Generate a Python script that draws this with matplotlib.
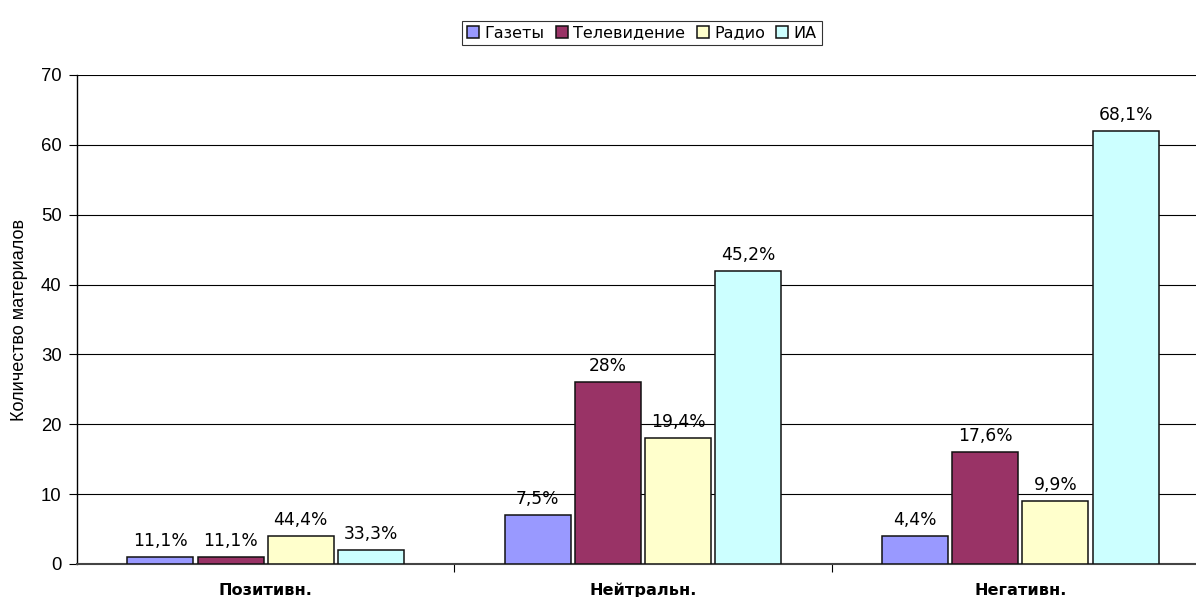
import matplotlib
matplotlib.use("Agg")
import matplotlib.pyplot as plt
import numpy as np

categories = ["Позитивн.", "Нейтральн.", "Негативн."]
series_names = ["Газеты", "Телевидение", "Радио", "ИА"]
gazety = [1, 7, 4]
tv = [1, 26, 16]
radio = [4, 18, 9]
ia = [2, 42, 62]
pct_gazety = ["11,1%", "7,5%", "4,4%"]
pct_tv = ["11,1%", "28%", "17,6%"]
pct_radio = ["44,4%", "19,4%", "9,9%"]
pct_ia = ["33,3%", "45,2%", "68,1%"]
colors = ["#9999FF", "#993366", "#FFFFCC", "#CCFFFF"]
yticks = [0, 10, 20, 30, 40, 50, 60, 70]

values = [gazety, tv, radio, ia]
labels = [pct_gazety, pct_tv, pct_radio, pct_ia]

fig = plt.figure(figsize=(11.96, 5.97), dpi=100)
ax = fig.add_axes([0.0644, 0.0553, 0.9465, 0.8191])

x = np.arange(len(categories))
w = 0.175
pitch = 0.186
for i, (vals, labs, c, name) in enumerate(zip(values, labels, colors, series_names)):
    pos = x + (i - 1.5) * pitch
    bars = ax.bar(pos, vals, width=w, color=c, edgecolor="#111111", linewidth=1.1,
                  label=name, zorder=3)
    for b, v, l in zip(bars, vals, labs):
        ax.annotate(l, (b.get_x() + b.get_width() / 2, v), xytext=(0, 5),
                    textcoords="offset points", ha="center", va="bottom",
                    fontsize=12.3, family="DejaVu Sans", zorder=4)

ax.set_xlim(-0.5, 2.5)
ax.set_ylim(0, 70)
ax.set_yticks(yticks)
ax.set_yticklabels([str(t) for t in yticks], family="Liberation Sans", fontsize=13.3)
ax.yaxis.grid(True, color="black", linewidth=0.8, zorder=0)
ax.set_axisbelow(True)

ax.set_xticks([0.5, 1.5], minor=False)
ax.set_xticklabels([])
ax.set_xticks(x, minor=True)
ax.set_xticklabels(categories, minor=True, fontsize=11.6, fontweight="bold",
                   family="DejaVu Sans", va="baseline")
ax.tick_params(axis="x", which="minor", length=0, pad=22)
ax.tick_params(axis="x", which="major", length=6, width=0.8, direction="out")
ax.tick_params(axis="y", length=6, width=0.8, direction="out", pad=5)

for s in ["top", "right"]:
    ax.spines[s].set_visible(False)
ax.spines["left"].set_linewidth(1)
ax.spines["bottom"].set_linewidth(1.5)
ax.spines["bottom"].set_color("#444444")

ax.set_ylabel("Количество материалов", family="Liberation Sans", fontsize=13, labelpad=9)

leg = fig.legend(loc="center", bbox_to_anchor=(642 / 1196, 1 - 33 / 597), ncol=4,
                 frameon=True, fancybox=False, edgecolor="black", handlelength=0.75,
                 handleheight=0.75, handletextpad=0.35, columnspacing=0.7,
                 borderpad=0.3, prop={"family": "DejaVu Sans", "size": 11.5})
leg.get_frame().set_linewidth(0.8)

fig.savefig("out.png", dpi=100)
